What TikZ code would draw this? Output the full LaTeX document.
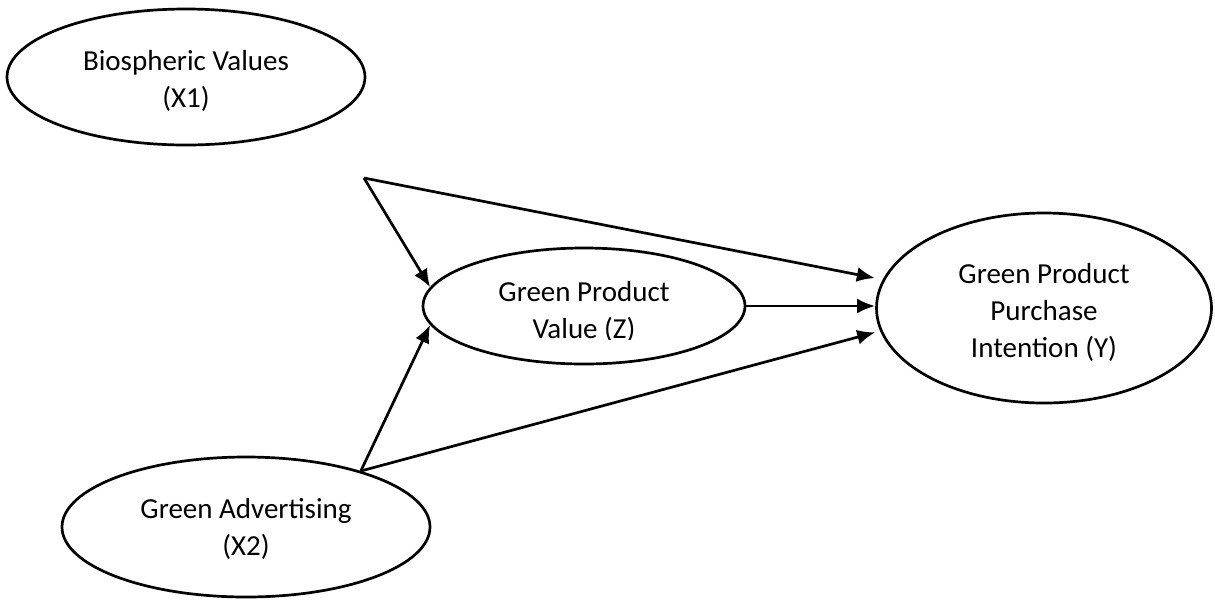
\documentclass[tikz,border=0pt]{standalone}
\usepackage{fontspec}
\setmainfont{Carlito}
\usetikzlibrary{shapes.geometric,arrows.meta}
\begin{document}
\begin{tikzpicture}[x=0.5pt,y=-0.5pt,
  construct/.style={ellipse,draw,line width=1.35pt,inner sep=0pt},
  caption/.style={inner sep=0pt,align=center,font=\fontsize{14.5}{18.5}\selectfont},
  link/.style={-{Latex[length=9pt,width=7.5pt]},line width=1.35pt}]
\useasboundingbox (0,0) rectangle (1215,601);

% latent constructs
\node[construct,minimum width=179pt,minimum height=68pt] (X1) at (186,77) {};
\node[caption] (X1t) at (186,81) {Biospheric Values\\(X1)};

\node[construct,minimum width=184pt,minimum height=70pt] (X2) at (246,527) {};
\node[caption] (X2t) at (246,529) {Green Advertising\\(X2)};

\node[construct,minimum width=161pt,minimum height=58pt] (Z) at (584,306) {};
\begin{scope}
  % the caption box is cut off at the baseline of its last line
  \clip (423,240) rectangle (745,339);
  \node[caption] (Zt) at (584,312) {Green Product\\Value (Z)};
\end{scope}

\node[construct,minimum width=167.5pt,minimum height=95pt] (Y) at (1044,308) {};
\node[caption] (Yt) at (1044,312) {Green Product\\Purchase\\Intention (Y)};

% structural paths
\coordinate (src) at (364,178);
\draw[link] (src) -- (Z.173);
\draw[link,shorten >=4pt] (src) -- (Y.170);
\draw[link] (Z.east) -- (Z.east -| Y.west);
\draw[link] (X2.26) -- (Z.187);
\draw[link,shorten >=2.5pt] (X2.26) -- (Y.188);
\end{tikzpicture}
\end{document}
